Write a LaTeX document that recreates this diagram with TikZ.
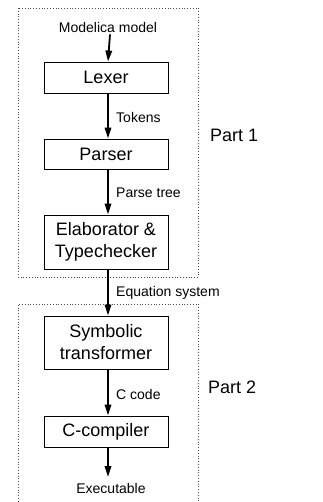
\documentclass[tikz,border=0pt]{standalone}
\usepackage{fontspec}
\setmainfont{Liberation Sans}
\usetikzlibrary{arrows.meta}
\begin{document}
\begin{tikzpicture}[x=1pt,y=-1pt,
  stage/.style={draw=black,line width=0.9pt,minimum width=124pt,inner sep=0pt,align=center,font=\fontsize{18}{22}\selectfont},
  lbl/.style={inner sep=0pt,font=\fontsize{14}{16}\selectfont},
  partlbl/.style={inner sep=0pt,anchor=west,font=\fontsize{18}{22}\selectfont},
  flow/.style={line width=1.8pt,-{Triangle[length=11pt,width=6.5pt]}},
  group/.style={draw=black!70,line width=0.8pt,dotted}]
\useasboundingbox (0,0) rectangle (323,502);
\fill[white] (0,0) rectangle (323,502);
\draw[group] (18,8) rectangle (198,277);
\draw[group] (18,510) -- (18,304) -- (198,304) -- (198,510);
\node[lbl] (in) at (108,28) {Modelica model};
\node[stage,minimum height=31pt] (lexer) at (106,77.5) {Lexer};
\node[stage,minimum height=30pt] (parser) at (106,154) {Parser};
\node[stage,minimum height=54pt] (elab) at (106,242) {Elaborator \&\\Typechecker};
\node[stage,minimum height=53pt] (sym) at (106,342.5) {Symbolic\\transformer};
\node[stage,minimum height=31pt] (cc) at (106,431.5) {C-compiler};
\node[lbl] (out) at (111,488) {Executable};
\coordinate (outtop) at (108,477);
\draw[flow] ([xshift=2pt,yshift=-1pt]in.south) -- ([xshift=2pt]lexer.north);
\draw[flow] ([xshift=2pt]lexer.south) -- ([xshift=2pt]parser.north);
\draw[flow] ([xshift=2pt]parser.south) -- ([xshift=2pt]elab.north);
\draw[flow] ([xshift=2pt]elab.south) -- ([xshift=2pt]sym.north);
\draw[flow] ([xshift=2pt]sym.south) -- ([xshift=2pt]cc.north);
\draw[flow] ([xshift=2pt]cc.south) -- (outtop);
\node[lbl,anchor=west] (t1) at (116,117) {Tokens};
\node[lbl,anchor=west] (t2) at (116,193) {Parse tree};
\node[lbl,anchor=west] (t3) at (116,293) {Equation system};
\node[lbl,anchor=west] (t4) at (116,394) {C code};
\node[partlbl] (p1) at (210,135) {Part 1};
\node[partlbl] (p2) at (208,387) {Part 2};
\end{tikzpicture}
\end{document}
